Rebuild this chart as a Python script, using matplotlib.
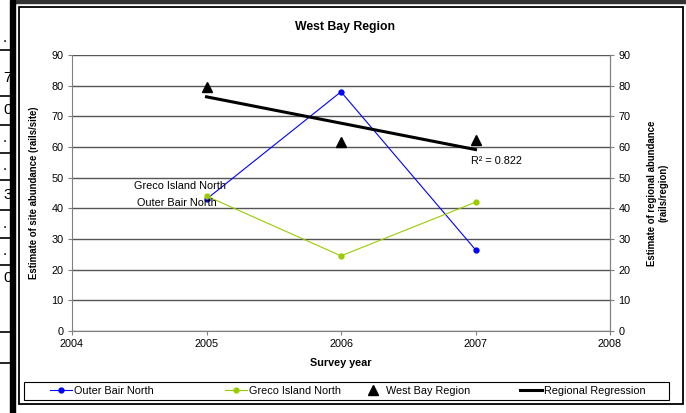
import numpy as np
import matplotlib.pyplot as plt
from matplotlib.lines import Line2D
from matplotlib.patches import Rectangle

years = [2005, 2006, 2007]
outer_bair = [43, 78, 26.5]
greco = [44, 24.5, 42]
west_bay = [79.5, 61.5, 62.3]
r2_label = 'R² = 0.822'

W, H = 686, 413
fig = plt.figure(figsize=(6.86, 4.13), dpi=100)
plt.rcParams['font.family'] = ['Liberation Sans', 'DejaVu Sans']
fs = 7.8


def fx(px):
    return px / W


def fy(py):
    return 1 - py / H


# bits of the page around the chart
fig.patches.append(Rectangle((fx(15), fy(3)), fx(671), 3 / H, transform=fig.transFigure,
                             color='#333333', zorder=0))
for yy in [50, 96, 125, 153, 180, 210, 238, 265, 332, 363]:
    fig.lines.append(Line2D([0, fx(11)], [fy(yy), fy(yy)], transform=fig.transFigure,
                            color='black', lw=1.2))
for ch, yy in [('.', 38), ('7', 78), ('0', 110), ('.', 138), ('.', 166), ('3', 195),
               ('.', 224), ('.', 251), ('0', 278)]:
    fig.text(fx(3), fy(yy), ch, fontsize=11, va='center', ha='left', zorder=1)
fig.patches.append(Rectangle((fx(10), 0), 5 / W, 1, transform=fig.transFigure,
                             color='black', zorder=5))
fig.patches.append(Rectangle((fx(19), fy(404)), 664 / W, 397 / H, transform=fig.transFigure,
                             fill=False, ec='black', lw=1.3, zorder=1))
fig.patches.append(Rectangle((fx(24), fy(400)), 645 / W, 18 / H, transform=fig.transFigure,
                             fill=False, ec='black', lw=0.8, zorder=1))

ax = fig.add_axes([fx(72), fy(331), fx(610) - fx(72), (331 - 55) / H])
ax.plot(years, outer_bair, color='#0000FF', lw=0.8, marker='o', ms=3.5, label='Outer Bair North')
ax.plot(years, greco, color='#99CC00', lw=0.8, marker='o', ms=3.5, label='Greco Island North')
ax.set_xlim(2004, 2008)
ax.set_ylim(0, 90)
ax.set_xticks([2004, 2005, 2006, 2007, 2008])
ax.set_yticks(range(0, 91, 10))
ax.yaxis.grid(True, color='#555555', lw=1.0)
ax.set_axisbelow(True)
ax.spines['top'].set_visible(False)
for s in ['left', 'bottom', 'right']:
    ax.spines[s].set_color('#808080')
ax.tick_params(labelsize=fs, length=3, color='#808080', pad=3)
ax.set_xlabel('Survey year', fontsize=fs, fontweight='bold', labelpad=6)
ax.set_ylabel('Estimate of site abundance (rails/site)', fontsize=6.9, fontweight='bold', labelpad=9)

ax.annotate('Greco Island North', (years[0], greco[0]), xytext=(-19, 7.5),
            textcoords='offset points', ha='center', va='center', fontsize=fs)
ax.annotate('Outer Bair North', (years[0], outer_bair[0]), xytext=(-21, -3),
            textcoords='offset points', ha='center', va='center', fontsize=fs)

ax2 = ax.twinx()
ax2.set_ylim(0, 90)
ax2.set_yticks(range(0, 91, 10))
ax2.plot(years, west_bay, ls='none', marker='^', ms=6.5, color='black', label='West Bay Region')
coef = np.polyfit(years, west_bay, 1)
ax2.plot(years, np.polyval(coef, years), color='black', lw=2.2, label='Regional Regression')
ax2.text(2007 - 0.03, np.polyval(coef, 2007) - 2, r2_label, fontsize=fs, ha='left', va='top')
for s in ['top', 'left', 'bottom']:
    ax2.spines[s].set_visible(False)
ax2.spines['right'].set_color('#808080')
ax2.tick_params(labelsize=fs, length=3, color='#808080', pad=3)
ax2.set_ylabel('Estimate of regional abundance\n(rails/region)', fontsize=6.9,
               fontweight='bold', labelpad=12, rotation=90)

fig.text(fx(345), fy(27), 'West Bay Region', fontsize=8.8, fontweight='bold', ha='center', va='center')

handles = ax.get_lines()[:2] + ax2.get_lines()[:2]
for h, x0 in zip(handles, [50, 225, 362, 520]):
    fig.legend([h], [h.get_label()], loc='center left', bbox_to_anchor=(fx(x0), fy(391)),
               frameon=False, fontsize=fs, handlelength=2.0, handletextpad=0.2,
               borderpad=0, borderaxespad=0)

fig.savefig('out.png', dpi=100)
